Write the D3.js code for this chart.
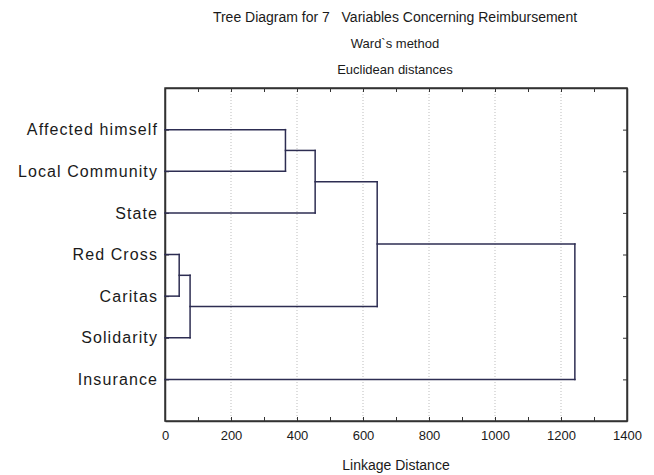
<!DOCTYPE html>
<html>
<head>
<meta charset="utf-8">
<script src="https://cdn.jsdelivr.net/npm/d3@7"></script>
<style>
  body { margin: 0; background: #fff; }
  text { font-family: "Liberation Sans", Arial, sans-serif; fill: #1a1a1a; white-space: pre; }
</style>
</head>
<body>
<div id="chart"></div>
<script>
// leaves, top to bottom
var variables = ["Affected himself", "Local Community", "State", "Red Cross", "Caritas", "Solidarity", "Insurance"];
// amalgamation steps: [left, right, linkage distance]; new clusters numbered from 7
var mergeLeft  = [3, 7, 0, 9, 10, 11];
var mergeRight = [4, 5, 1, 2, 8, 6];
var mergeDist  = [43, 76, 365, 455, 643, 1242];
var xMajor = [0, 200, 400, 600, 800, 1000, 1200, 1400];

var width = 654, height = 475;
var pLeft = 165, pRight = 627, pTop = 88, pBottom = 421;
var ink = "#2d2d52";

var svg = d3.select("#chart").append("svg")
  .attr("width", width)
  .attr("height", height);

var x = d3.scaleLinear().domain([0, 1400]).range([pLeft, pRight]);
var y = d3.scaleLinear().domain([0, variables.length + 1]).range([pTop, pBottom]);

// titles
svg.append("text").attr("x", 395).attr("y", 22).attr("text-anchor", "middle")
  .style("font-size", "14px").text("Tree Diagram for 7   Variables Concerning Reimbursement");
svg.append("text").attr("x", 395).attr("y", 48).attr("text-anchor", "middle")
  .style("font-size", "13px").text("Ward`s method");
svg.append("text").attr("x", 395).attr("y", 74).attr("text-anchor", "middle")
  .style("font-size", "13px").text("Euclidean distances");

// dotted grid
svg.append("g").selectAll("line").data(xMajor.slice(1, -1)).enter().append("line")
  .attr("x1", function(d){ return x(d); })
  .attr("x2", function(d){ return x(d); })
  .attr("y1", pTop).attr("y2", pBottom)
  .attr("stroke", "#bdbdbd")
  .attr("stroke-dasharray", "1,2");

// axes, ticks pointing inward
var minor = d3.range(0, 1401, 100);
var xBottom = svg.append("g").attr("transform", "translate(0," + pBottom + ")")
  .call(d3.axisBottom(x).tickValues(minor).tickSizeInner(-4).tickSizeOuter(0)
    .tickPadding(10)
    .tickFormat(function(d){ return d % 200 === 0 ? d : ""; }));
var xTop = svg.append("g").attr("transform", "translate(0," + pTop + ")")
  .call(d3.axisTop(x).tickValues(minor).tickSizeInner(-4).tickSizeOuter(0).tickFormat(""));
var yLeft = svg.append("g").attr("transform", "translate(" + pLeft + ",0)")
  .call(d3.axisLeft(y).tickValues(d3.range(1, variables.length + 1)).tickSizeInner(-4).tickSizeOuter(0)
    .tickPadding(7)
    .tickFormat(function(d){ return variables[d - 1]; }));
var yRight = svg.append("g").attr("transform", "translate(" + pRight + ",0)")
  .call(d3.axisRight(y).tickValues(d3.range(1, variables.length + 1)).tickSizeInner(-4).tickSizeOuter(0).tickFormat(""));

[xBottom, xTop, yLeft, yRight].forEach(function(g){
  g.select(".domain").attr("stroke", "#333").attr("stroke-width", 1.5);
  g.selectAll(".tick line").attr("stroke", "#333");
});
xBottom.selectAll("text").style("font-size", "13px").attr("fill", "#1a1a1a");
yLeft.selectAll("text").style("font-size", "16px").style("letter-spacing", "1.1px").attr("fill", "#1a1a1a");
svg.append("rect").attr("x", pLeft).attr("y", pTop)
  .attr("width", pRight - pLeft).attr("height", pBottom - pTop)
  .attr("fill", "none").attr("stroke", "#333").attr("stroke-width", 1.5);

svg.append("text").attr("x", 396).attr("y", 470).attr("text-anchor", "middle")
  .style("font-size", "14px").text("Linkage Distance");

// dendrogram
var nodeY = variables.map(function(d, i){ return y(i + 1); });
var nodeH = variables.map(function(){ return 0; });
var segs = [];
mergeDist.forEach(function(dist, k){
  var a = mergeLeft[k], b = mergeRight[k];
  segs.push([nodeH[a], nodeY[a], dist, nodeY[a]]);
  segs.push([nodeH[b], nodeY[b], dist, nodeY[b]]);
  segs.push([dist, nodeY[a], dist, nodeY[b]]);
  nodeY.push((nodeY[a] + nodeY[b]) / 2);
  nodeH.push(dist);
});

svg.append("g").selectAll("line").data(segs).enter().append("line")
  .attr("x1", function(d){ return x(d[0]); })
  .attr("y1", function(d){ return d[1]; })
  .attr("x2", function(d){ return x(d[2]); })
  .attr("y2", function(d){ return d[3]; })
  .attr("stroke", ink)
  .attr("stroke-width", 1.5)
  .attr("stroke-linecap", "square");
</script>
</body>
</html>
